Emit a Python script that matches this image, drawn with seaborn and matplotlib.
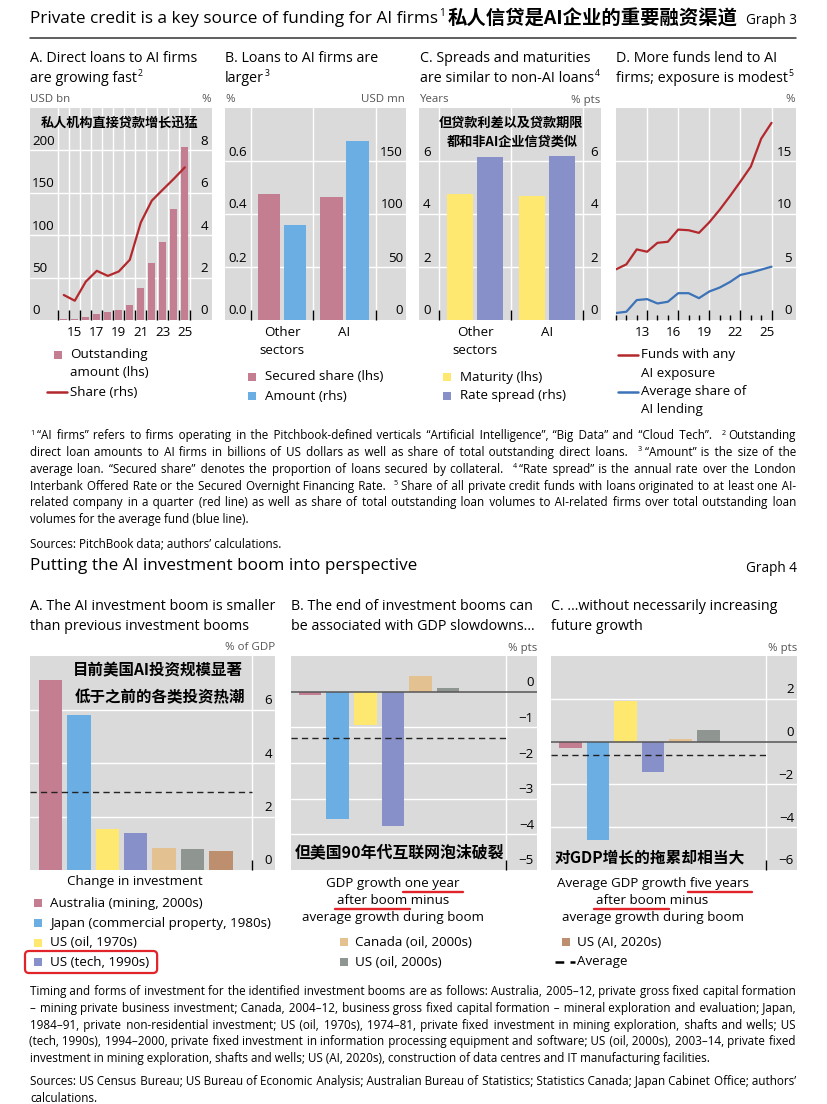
import numpy as np
import pandas as pd
import matplotlib
matplotlib.use("Agg")
import matplotlib.pyplot as plt
import matplotlib.font_manager as fm
import matplotlib.transforms as mtrans
from matplotlib.patches import Rectangle, FancyBboxPatch
from matplotlib.lines import Line2D
import seaborn as sns

# ---------------- data : Graph 3 ----------------
g3a_years = [2014, 2015, 2016, 2017, 2018, 2019, 2020, 2021, 2022, 2023, 2024, 2025]
g3a_amount_bn = [1, 1, 4, 7, 9, 11.5, 18, 38, 67, 92, 131, 204]
g3a_share_pct = [1.18, 0.91, 1.81, 2.32, 2.08, 2.29, 2.84, 4.6, 5.63, 6.15, 6.66, 7.2]
g3a_xtick_years = [2015, 2017, 2019, 2021, 2023, 2025]
g3a_xtick_labels = ["15", "17", "19", "21", "23", "25"]

g3_sectors = ["Other sectors", "AI"]
g3b_secured_share = [0.475, 0.463]
g3b_amount_mn = [90, 169]
g3c_maturity_yrs = [4.75, 4.69]
g3c_spread_pts = [6.14, 6.2]

g3d_years = [2010, 2011, 2012, 2013, 2014, 2015, 2016, 2017,
             2018, 2019, 2020, 2021, 2022, 2023, 2024, 2025]
g3d_funds_any = [4.78, 5.25, 6.66, 6.44, 7.28, 7.38, 8.53, 8.47,
                 8.22, 9.22, 10.4, 11.7, 13.06, 14.47, 17.1, 18.6]
g3d_avg_share = [0.66, 0.78, 1.88, 1.97, 1.56, 1.72, 2.53, 2.53,
                 2.06, 2.69, 3.06, 3.59, 4.25, 4.47, 4.75, 5.03]
g3d_xtick_years = [2013, 2016, 2019, 2022, 2025]
g3d_xtick_labels = ["13", "16", "19", "22", "25"]

# ---------------- data : Graph 4 ----------------
g4_booms = ["Australia (mining, 2000s)", "Japan (commercial property, 1980s)",
            "US (oil, 1970s)", "US (tech, 1990s)", "Canada (oil, 2000s)",
            "US (oil, 2000s)", "US (AI, 2020s)"]
g4_inv_change = [7.12, 5.81, 1.54, 1.375, 0.81, 0.79, 0.71]
g4_gdp_1y = [-0.1, -3.58, -0.93, -3.78, 0.44, 0.1, np.nan]
g4_gdp_5y = [-0.31, -4.6, 1.9, -1.4, 0.11, 0.55, np.nan]
g4_average = [2.91, -1.31, -0.62]

# ---------------- style ----------------
PINK = "#C47E92"; RED = "#B3282D"; BLUE = "#6BAEE3"; YELLOW = "#FEE86F"
PURPLE = "#8790C8"; TAN = "#E3C190"; GRAY = "#8F9590"; BROWN = "#BE8F6E"
LBLUE = "#3C73B8"; BG = "#DADADA"; MARK = "#E0242A"
g4_colors = [PINK, BLUE, YELLOW, PURPLE, TAN, GRAY, BROWN]

W, H = 828, 1104
sns.set_theme(style="white")
names = {f.name for f in fm.fontManager.ttflist}
EN = "Open Sans" if "Open Sans" in names else "DejaVu Sans"
CJK = "Noto Sans CJK SC"
ENF = [EN, "DejaVu Sans"]
CJF = [CJK, "DejaVu Sans"]
CJW = "black"
plt.rcParams["font.family"] = ENF
plt.rcParams["text.color"] = "black"
plt.rcParams["axes.unicode_minus"] = True

fig = plt.figure(figsize=(W / 100, H / 100), dpi=100)
fig.patch.set_facecolor("white")
R = fig.canvas.get_renderer()


def width_px(s, size, family=None, weight="normal"):
    t = fig.text(0, 0, s, fontsize=size, family=family or ENF, fontweight=weight)
    w = t.get_window_extent(R).width
    t.remove()
    return w


def adv_px(s, size):
    return width_px("x" + s + "x", size) - width_px("xx", size)


def fit(s, target, family=None, weight="normal"):
    return 10.0 * target / width_px(s, 10, family, weight)


FS_TITLE = fit("Private credit is a key source of funding for AI firms", 407)
FS_GRAPH = fit("Graph 3", 51)
FS_PANEL = fit("A. Direct loans to AI firms", 167)
FS_LAB = fit("average growth during boom", 181)
FS_TICK = fit("200", 23)
FS_UNIT = fit("USD bn", 40)


def T(x, y, s, size, ha="left", va="center", color="black", family=None, weight="normal", **kw):
    return fig.text(x / W, 1 - y / H, s, fontsize=size, ha=ha, va=va, color=color,
                    family=family or ENF, fontweight=weight, **kw)


def sup(t, s, size, dy=5, dx=1):
    bb = t.get_window_extent(R)
    return fig.text((bb.x1 + dx) / W, ((bb.y0 + bb.y1) / 2 + dy) / H, s, fontsize=size,
                    ha="left", va="center", family=ENF)


def hline_fig(x0, x1, y, color, lw, **kw):
    fig.add_artist(Line2D([x0 / W, x1 / W], [1 - y / H, 1 - y / H], color=color, lw=lw,
                          transform=fig.transFigure, **kw))


def square(x, y, color, s=8):
    fig.add_artist(Rectangle(((x - s / 2) / W, 1 - (y + s / 2) / H), s / W, s / H,
                             facecolor=color, edgecolor="none", transform=fig.transFigure))


def axpx(x0, y0, x1, y1):
    ax = fig.add_axes([x0 / W, 1 - y1 / H, (x1 - x0) / W, (y1 - y0) / H])
    ax.set_facecolor(BG)
    for sp in ax.spines.values():
        sp.set_visible(False)
    ax.set_axisbelow(True)
    return ax, (x0, y0, x1, y1)


def clean_twin(ax2):
    for sp in ax2.spines.values():
        sp.set_visible(False)
    ax2.grid(False)
    ax2.tick_params(axis="y", left=False, right=False, labelleft=False, labelright=False)
    ax2.set_ylabel("")
    ax2.set_xlabel("")


OFF_UP = mtrans.ScaledTranslation(0, 0.09, fig.dpi_scale_trans)


def ylab(ax, box, vals, labels, xpx, ha):
    x0, y0, x1, y1 = box
    xf = (xpx - x0) / (x1 - x0)
    tr = mtrans.blended_transform_factory(ax.transAxes, ax.transData) + OFF_UP
    for v, l in zip(vals, labels):
        ax.text(xf, v, l, transform=tr, ha=ha, va="center", fontsize=FS_TICK, clip_on=False)


def xlab(ax, vals, labels, dy_px, dx_px=0, size=None):
    tr = ax.get_xaxis_transform() + mtrans.ScaledTranslation(dx_px / 100, -dy_px / 100,
                                                             fig.dpi_scale_trans)
    for v, l in zip(vals, labels):
        ax.text(v, 0, l, transform=tr, ha="center", va="center", fontsize=size or FS_LAB,
                clip_on=False)


def hgrid(ax, vals):
    ax.set_yticks(vals)
    ax.tick_params(axis="y", which="both", left=False, right=False, labelleft=False,
                   labelright=False)
    ax.yaxis.grid(True, color="white", lw=1.0)
    ax.set_ylabel("")


def vgrid(ax, vals, grid=True):
    ax.set_xticks(vals)
    ax.set_xticklabels([])
    ax.tick_params(axis="x", which="major", direction="in", length=7.2, width=1.0,
                   color="black", bottom=True, labelbottom=False)
    ax.xaxis.grid(grid, which="major", color="white", lw=1.0)
    ax.set_xlabel("")


# ================= GRAPH 3 header =================
t = T(30, 19, "Private credit is a key source of funding for AI firms", FS_TITLE)
s1 = sup(t, "1", FS_TITLE * 0.6, dy=6)
bb = s1.get_window_extent(R)
FS_CN_T = fit("私人信贷是AI企业的重要融资渠道", 290, CJF, CJW)
T(bb.x1 + 3, 19, "私人信贷是AI企业的重要融资渠道", FS_CN_T, family=CJF, weight=CJW)
T(797, 20, "Graph 3", FS_GRAPH, ha="right")
hline_fig(30, 796, 38, "#333333", 1.1)

# panel titles
T(30, 58, "A. Direct loans to AI firms", FS_PANEL)
sup(T(30, 78, "are growing fast", FS_PANEL), "2", FS_PANEL * 0.62)
T(225, 58, "B. Loans to AI firms are", FS_PANEL)
sup(T(225, 78, "larger", FS_PANEL), "3", FS_PANEL * 0.62)
T(420, 58, "C. Spreads and maturities", FS_PANEL)
sup(T(420, 78, "are similar to non-AI loans", FS_PANEL), "4", FS_PANEL * 0.62)
T(616, 58, "D. More funds lend to AI", FS_PANEL)
sup(T(616, 78, "firms; exposure is modest", FS_PANEL), "5", FS_PANEL * 0.62)

UC = "#555555"
T(30, 100, "USD bn", FS_UNIT, color=UC)
T(211, 100, "%", FS_UNIT, color=UC, ha="right")
T(225, 100, "%", FS_UNIT, color=UC)
T(405, 100, "USD mn", FS_UNIT, color=UC, ha="right")
T(420, 100, "Years", FS_UNIT, color=UC)
T(600, 100, "% pts", FS_UNIT, color=UC, ha="right")
T(795, 100, "%", FS_UNIT, color=UC, ha="right")

# ---------- Panel A ----------
axA, bA = axpx(30, 108, 212, 320)
sns.barplot(x=g3a_years, y=g3a_amount_bn, native_scale=True, orient="x", color=PINK,
            saturation=1, width=0.66, linewidth=0, errorbar=None, ax=axA)
axA2 = axA.twinx()
sns.lineplot(x=g3a_years, y=g3a_share_pct, color=RED, lw=1.6, ax=axA2)
axA.set_xlim(2010.93, 2027.47)
axA.set_ylim(0, 250)
axA2.set_ylim(0, 10)
clean_twin(axA2)
hgrid(axA, [50, 100, 150, 200])
vgrid(axA, np.arange(2013.5, 2026, 1.0))
ylab(axA, bA, [0, 50, 100, 150, 200], ["0", "50", "100", "150", "200"], 32, "left")
ylab(axA2, bA, [0, 2, 4, 6, 8], ["0", "2", "4", "6", "8"], 208, "right")
xlab(axA, g3a_xtick_years, g3a_xtick_labels, 13)
FS_CN_S = fit("私人机构直接贷款增长迅猛", 158, CJF, CJW)
T(120, 123, "私人机构直接贷款增长迅猛", FS_CN_S, ha="center", family=CJF, weight=CJW)


# ---------- Panels B and C (grouped bars on twin scales) ----------
def twin_group(box, s1name, s1vals, s2name, s2vals, c1, c2, xlim, ylim1, ylim2):
    ax, b = axpx(*box)
    df = pd.DataFrame({"sector": g3_sectors * 2,
                       "series": [s1name] * 2 + [s2name] * 2,
                       "value": list(s1vals) + list(s2vals)})
    horder = [s1name, s2name]
    pal = {s1name: c1, s2name: c2}
    sns.barplot(data=df[df.series == s1name], x="sector", y="value", hue="series",
                hue_order=horder, order=g3_sectors, palette=pal, dodge=True, width=0.84,
                gap=0.14, saturation=1, errorbar=None, legend=False, linewidth=0, ax=ax)
    ax2 = ax.twinx()
    sns.barplot(data=df[df.series == s2name], x="sector", y="value", hue="series",
                hue_order=horder, order=g3_sectors, palette=pal, dodge=True, width=0.84,
                gap=0.14, saturation=1, errorbar=None, legend=False, linewidth=0, ax=ax2)
    ax.set_xlim(*xlim)
    ax.set_ylim(*ylim1)
    ax2.set_ylim(*ylim2)
    clean_twin(ax2)
    vgrid(ax, [-0.5, 0.5, 1.5])
    xlab(ax, [0, 1], ["Other", "AI"], 13)
    xlab(ax, [0], ["sectors"], 31)
    return ax, ax2, b


axB, axB2, bB = twin_group((225, 108, 406, 320), "Secured share (lhs)", g3b_secured_share,
                           "Amount (rhs)", g3b_amount_mn, PINK, BLUE, (-0.91, 1.98),
                           (0, 0.8), (0, 200))
hgrid(axB, [0.2, 0.4, 0.6])
ylab(axB, bB, [0, 0.2, 0.4, 0.6], ["0.0", "0.2", "0.4", "0.6"], 228, "left")
ylab(axB2, bB, [0, 50, 100, 150], ["0", "50", "100", "150"], 403, "right")

axC, axC2, bC = twin_group((419, 108, 601, 320), "Maturity (lhs)", g3c_maturity_yrs,
                           "Rate spread (rhs)", g3c_spread_pts, YELLOW, PURPLE,
                           (-0.777, 1.75), (0, 8), (0, 8))
hgrid(axC, [2, 4, 6])
ylab(axC, bC, [0, 2, 4, 6], ["0", "2", "4", "6"], 423, "left")
ylab(axC2, bC, [0, 2, 4, 6], ["0", "2", "4", "6"], 598, "right")
T(511, 123, "但贷款利差以及贷款期限", FS_CN_S, ha="center", family=CJF, weight=CJW)
T(512, 142, "都和非AI企业信贷类似", FS_CN_S, ha="center", family=CJF, weight=CJW)

# ---------- Panel D ----------
axD, bD = axpx(616, 108, 796, 320)
df_d = pd.DataFrame({"year": g3d_years * 2,
                     "value": g3d_funds_any + g3d_avg_share,
                     "series": ["Funds with any AI exposure"] * len(g3d_years)
                     + ["Average share of AI lending"] * len(g3d_years)})
sns.lineplot(data=df_d, x="year", y="value", hue="series",
             palette={"Funds with any AI exposure": RED, "Average share of AI lending": LBLUE},
             lw=1.6, legend=False, ax=axD)
axD.set_xlim(2010, 2027.36)
axD.set_ylim(0, 20)
hgrid(axD, [5, 10, 15])
vgrid(axD, g3d_xtick_years)
axD.set_xticks(g3d_years, minor=True)
axD.tick_params(axis="x", which="minor", direction="in", length=3.6, width=1.0,
                color="black", bottom=True, labelbottom=False)
ylab(axD, bD, [0, 5, 10, 15], ["0", "5", "10", "15"], 792, "right")
xlab(axD, g3d_xtick_years, g3d_xtick_labels, 13, dx_px=-5)

# ---------- Graph 3 legends ----------
square(58, 355, PINK)
T(70, 355, "Outstanding", FS_LAB)
T(70, 373, "amount (lhs)", FS_LAB)
hline_fig(47, 67, 392, RED, 1.8)
T(70, 392, "Share (rhs)", FS_LAB)
square(252, 377, PINK)
T(265, 377, "Secured share (lhs)", FS_LAB)
square(252, 396, BLUE)
T(265, 396, "Amount (rhs)", FS_LAB)
square(447, 377, YELLOW)
T(460, 377, "Maturity (lhs)", FS_LAB)
square(447, 396, PURPLE)
T(460, 396, "Rate spread (rhs)", FS_LAB)
hline_fig(618, 638, 355, RED, 1.8)
T(641, 355, "Funds with any", FS_LAB)
T(641, 373, "AI exposure", FS_LAB)
hline_fig(618, 638, 392, LBLUE, 1.8)
T(641, 392, "Average share of", FS_LAB)
T(641, 409, "AI lending", FS_LAB)

# ---------- footnote text ----------
g3_notes = [
    "^1 “AI firms” refers to firms operating in the Pitchbook-defined verticals “Artificial Intelligence”, “Big Data” and “Cloud Tech”. ^2 Outstanding",
    "direct loan amounts to AI firms in billions of US dollars as well as share of total outstanding direct loans. ^3 “Amount” is the size of the",
    "average loan. “Secured share” denotes the proportion of loans secured by collateral. ^4 “Rate spread” is the annual rate over the London",
    "Interbank Offered Rate or the Secured Overnight Financing Rate. ^5 Share of all private credit funds with loans originated to at least one AI-",
    "related company in a quarter (red line) as well as share of total outstanding loan volumes to AI-related firms over total outstanding loan",
    "volumes for the average fund (blue line).",
]
g4_notes = [
    "Timing and forms of investment for the identified investment booms are as follows: Australia, 2005–12, private gross fixed capital formation",
    "– mining private business investment; Canada, 2004–12, business gross fixed capital formation – mineral exploration and evaluation; Japan,",
    "1984–91, private non-residential investment; US (oil, 1970s), 1974–81, private fixed investment in mining exploration, shafts and wells; US",
    "(tech, 1990s), 1994–2000, private fixed investment in information processing equipment and software; US (oil, 2000s), 2003–14, private fixed",
    "investment in mining exploration, shafts and wells; US (AI, 2020s), construction of data centres and IT manufacturing facilities.",
]
g4_source = "Sources: US Census Bureau; US Bureau of Economic Analysis; Australian Bureau of Statistics; Statistics Canada; Japan Cabinet Office; authors’"

HAIR = "\u200a"


def tokens(line):
    return [tk for tk in line.split(" ") if tk]


def plain(line):
    return " ".join(tk[1:] if tk.startswith("^") else tk for tk in tokens(line))


# footnote size: as large as possible while every full line still fits the text width
FS_FOOT = fit("volumes for the average fund (blue line).", 222) * 1.1
for ln in g3_notes[:-1] + g4_notes[:-1] + [g4_source]:
    extra = 14 if "^" in ln else 4
    nw = width_px(plain(ln), FS_FOOT) + extra
    if nw > 766:
        FS_FOOT = FS_FOOT * 766 / nw


def justify(y, line, size, x0=30, x1=796, last=False):
    items, cur = [], []
    for tk in tokens(line):
        if tk.startswith("^"):
            if cur:
                items.append(["seg", cur])
                cur = []
            items.append(["sup", tk[1:]])
        else:
            cur.append(tk)
    if cur:
        items.append(["seg", cur])
    sp = adv_px(" ", size)
    hw = adv_px(HAIR, size)
    ssz = size * 0.62
    nat = [width_px(" ".join(v), size) if k == "seg" else width_px(v, ssz) for k, v in items]
    inner = sum(len(v) - 1 for k, v in items if k == "seg")
    n_b = sum(1 for j in range(1, len(items)) if items[j][0] == "sup")
    n_a = sum(1 for j in range(1, len(items)) if items[j - 1][0] == "sup")
    if last:
        e = 0.0
    else:
        e = (x1 - x0 - sum(nat) - n_b * 2 * sp - n_a * 3) / max(inner + 2 * n_b, 1)
    acc = 0.0
    strs = []
    for k, v in items:
        if k == "sup":
            strs.append(v)
            continue
        s = v[0]
        for wd in v[1:]:
            acc += e / hw
            n = int(round(acc))
            acc -= n
            s += " " + HAIR * max(n, 0) + wd
        strs.append(s)
    base = y + 4.5
    x = x0
    for j, ((k, v), s) in enumerate(zip(items, strs)):
        sz = ssz if k == "sup" else size
        yy = base - 5 if k == "sup" else base
        if j > 0:
            if k == "sup":
                x += 2 * (sp + e)
            elif items[j - 1][0] == "sup":
                x += 3
        if (not last) and j == len(items) - 1 and k == "seg":
            fig.text(x1 / W, 1 - yy / H, s, fontsize=sz, ha="right", va="baseline", family=ENF)
        else:
            o = fig.text(x / W, 1 - yy / H, s, fontsize=sz, ha="left", va="baseline", family=ENF)
            x = o.get_window_extent(R).x1


for i, ln in enumerate(g3_notes):
    justify(435 + i * 16.7, ln, FS_FOOT, last=(i == len(g3_notes) - 1))
T(30, 544, "Sources: PitchBook data; authors’ calculations.", FS_FOOT)

# ================= GRAPH 4 =================
T(30, 566, "Putting the AI investment boom into perspective", FS_TITLE)
T(797, 568, "Graph 4", FS_GRAPH, ha="right")

T(30, 606, "A. The AI investment boom is smaller", FS_PANEL)
T(30, 626, "than previous investment booms", FS_PANEL)
T(291, 606, "B. The end of investment booms can", FS_PANEL)
T(291, 626, "be associated with GDP slowdowns…", FS_PANEL)
T(551, 606, "C. …without necessarily increasing", FS_PANEL)
T(551, 626, "future growth", FS_PANEL)
T(275, 648, "% of GDP", FS_UNIT, color=UC, ha="right")
T(537, 648, "% pts", FS_UNIT, color=UC, ha="right")
T(797, 648, "% pts", FS_UNIT, color=UC, ha="right")


def g4panel(box, vals, avg, xlim, bound, ylim, grid_vals, lab_vals, lab_txt, lab_x, zero):
    ax, b = axpx(*box)
    sns.barplot(x=g4_booms, y=vals, hue=g4_booms, hue_order=g4_booms, order=g4_booms,
                palette=g4_colors, width=0.82, saturation=1, errorbar=None, legend=False,
                linewidth=0, dodge=False, ax=ax)
    ax.set_xlim(*xlim)
    ax.set_ylim(*ylim)
    hgrid(ax, grid_vals)
    vgrid(ax, [bound])
    if zero:
        ax.axhline(0, color="#555555", lw=1.1, zorder=1.5)
    ax.hlines(avg, xlim[0], bound, colors="#222222", linestyles=(0, (4.5, 3)), lw=1.0,
              zorder=3)
    ylab(ax, b, lab_vals, lab_txt, lab_x, "right")
    return ax


g4panel((30, 656, 275, 870), g4_inv_change, g4_average[0], (-0.72, 7.9), 7.09, (0, 8),
        [2, 4, 6], [0, 2, 4, 6], ["0", "2", "4", "6"], 272, False)
g4panel((291, 656, 537, 870), g4_gdp_1y, g4_average[1], (-0.69, 8.22), 7.09, (-5, 1),
        [-1, -2, -3, -4], [0, -1, -2, -3, -4, -5], ["0", "−1", "−2", "−3", "−4", "−5"],
        534, True)
g4panel((551, 656, 797, 870), g4_gdp_5y, g4_average[2], (-0.70, 8.21), 7.08, (-6, 4),
        [2, -2, -4], [2, 0, -2, -4, -6], ["2", "0", "−2", "−4", "−6"], 794, True)

FS_CN_A = fit("目前美国AI投资规模显著", 170, CJF, CJW)
T(158, 670, "目前美国AI投资规模显著", FS_CN_A, ha="center", family=CJF, weight=CJW)
T(160, 697, "低于之前的各类投资热潮", FS_CN_A, ha="center", family=CJF, weight=CJW)
FS_CN_B = fit("但美国90年代互联网泡沫破裂", 210, CJF, CJW)
T(400, 852, "但美国90年代互联网泡沫破裂", FS_CN_B, ha="center", family=CJF, weight=CJW)
FS_CN_C = fit("对GDP增长的拖累却相当大", 190, CJF, CJW)
T(650, 857, "对GDP增长的拖累却相当大", FS_CN_C, ha="center", family=CJF, weight=CJW)

# x-axis captions
T(135, 882, "Change in investment", FS_LAB, ha="center")
b1 = T(393, 883, "GDP growth one year", FS_LAB, ha="center")
b2 = T(393, 900, "after boom minus", FS_LAB, ha="center")
T(393, 917, "average growth during boom", FS_LAB, ha="center")
c1 = T(653, 883, "Average GDP growth five years", FS_LAB, ha="center")
c2 = T(652, 900, "after boom minus", FS_LAB, ha="center")
T(653, 917, "average growth during boom", FS_LAB, ha="center")


def underline(tobj, part, at_end, y):
    bbx = tobj.get_window_extent(R)
    wpart = width_px(part, FS_LAB)
    if at_end:
        xa, xb = bbx.x1 - wpart, bbx.x1
    else:
        xa, xb = bbx.x0, bbx.x0 + wpart
    hline_fig(xa - 2, xb + 3, y, MARK, 1.7, solid_capstyle="round")


underline(b1, "one year", True, 892)
underline(b2, "after boom", False, 909)
underline(c1, "five years", True, 892)
underline(c2, "after boom", False, 909)

# Graph 4 legends
rows1 = [903, 923, 943, 962]
for i, yy in enumerate(rows1):
    square(38, yy, g4_colors[i])
    tl = T(50, yy, g4_booms[i], FS_LAB)
    if i == 3:
        bx = tl.get_window_extent(R)
        fig.add_artist(FancyBboxPatch((25, H - 973), bx.x1 + 8 - 25, 22,
                                      boxstyle="round,pad=0,rounding_size=4",
                                      facecolor="none", edgecolor=MARK, lw=1.6,
                                      transform=None))
for i, yy in zip([4, 5], [942, 962]):
    square(344, yy, g4_colors[i])
    T(355, yy, g4_booms[i], FS_LAB)
square(566, 942, g4_colors[6])
T(577, 942, g4_booms[6], FS_LAB)
hline_fig(555, 575, 962, "black", 1.8, dashes=(3.5, 2.5))
T(577, 962, "Average", FS_LAB)

for i, ln in enumerate(g4_notes):
    justify(991 + i * 16.6, ln, FS_FOOT, last=(i == len(g4_notes) - 1))
justify(1081, g4_source, FS_FOOT)
T(30, 1098, "calculations.", FS_FOOT)

fig.savefig("out.png", dpi=100, facecolor="white")
